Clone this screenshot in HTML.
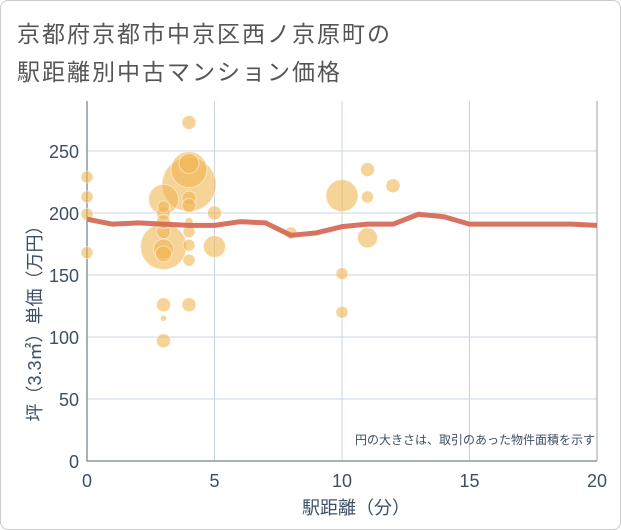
<!DOCTYPE html>
<html><head><meta charset="utf-8"><style>
body{margin:0;background:#fff;font-family:"Liberation Sans","Noto Sans CJK JP",sans-serif;}
#wrap{position:relative;width:619px;height:528px;border:1px solid #ccc;border-radius:8px;overflow:hidden;}
.title{position:absolute;left:16px;font-size:23px;color:#555;letter-spacing:2px;}
</style></head><body>
<div id="wrap">
<div class="title" style="top:14px">京都府京都市中京区西ノ京原町の</div>
<div class="title" style="top:52px">駅距離別中古マンション価格</div>
<svg id="chart" width="621" height="530" style="position:absolute;left:0;top:0"></svg>
</div>
<script>
const xTicks=[0,5,10,15,20];
const yTicks=[0,50,100,150,200,250];
const bubbleX=[0,0,0,0,3,3,3,3,3,3,3,3,3,3,3,4,4,4,4,4,4,4,4,4,4,4,5,5,8,10,10,10,11,11,11,12];
const bubbleY=[229,213,199,168,173,211,205,200,185,171,167,126,115,97,193,273,223,235,212,206,193,185,174,162,126,240,200,173,184,214,151,120,235,213,180,222];
const bubbleR=[6,6,6,6,23,15,6,7,7,10,8,7,3,7,7,7,27,18,7,7,4,6,6,6,7,10,7,11,6,16,6,6,7,6,10,7];
const lineX=[0,1,2,3,4,5,6,7,8,9,10,11,12,13,14,15,16,17,18,19,20];
const lineY=[195,191,192,191,190,190,193,192,182,184,189,191,191,199,197,191,191,191,191,191,190];
const NS='http://www.w3.org/2000/svg';
const svg=document.getElementById('chart');
const X0=86,X1=596,Y0=460,Y250=150;
const sx=v=>X0+(X1-X0)*v/20;
const sy=v=>Y0-(Y0-Y250)*v/250;
function mk(t,a){const e=document.createElementNS(NS,t);for(const k in a)e.setAttribute(k,a[k]);svg.appendChild(e);return e;}
const plotBg=mk('rect',{x:X0,y:100,width:X1-X0,height:Y0-100,fill:'#fff',stroke:'none'});


yTicks.forEach(t=>{
 const g=mk('line',{x1:X0,x2:X1,y1:sy(t),y2:sy(t),stroke:'#c8d4e4','stroke-width':1});
 
 
 const l=mk('text',{x:X0-8,y:sy(t)+7,'text-anchor':'end','font-size':18,fill:'#3d4f66'});
 l.textContent=t;
 
 
});
xTicks.forEach(t=>{
 const g=mk('line',{x1:sx(t),x2:sx(t),y1:100,y2:Y0,stroke:'#c8d4e4','stroke-width':1});
 
 
 const l=mk('text',{x:sx(t),y:Y0+26,'text-anchor':'middle','font-size':18,fill:'#3d4f66'});
 l.textContent=t;
 
 
});
const ax=mk('path',{d:`M${X0},100V${Y0}H${X1}`,fill:'none',stroke:'#8a96a6','stroke-width':1.5});


const ax2=mk('line',{x1:X1,x2:X1,y1:100,y2:Y0,stroke:'#9aa3ae','stroke-width':1});


const order=bubbleR.map((r,i)=>i).sort((a,b)=>bubbleR[b]-bubbleR[a]);
order.forEach(i=>{
 const c=mk('circle',{cx:sx(bubbleX[i]),cy:sy(bubbleY[i]),r:bubbleR[i],fill:'#f0b552','fill-opacity':0.6,stroke:'#fff','stroke-opacity':0.5,'stroke-width':1});
 
 
});
const ln=mk('polyline',{points:lineX.map((x,i)=>sx(x)+','+sy(lineY[i])).join(' '),fill:'none',stroke:'#d66b58','stroke-width':5,'stroke-linejoin':'round','stroke-opacity':0.95});


const note=mk('text',{x:594,y:443,'text-anchor':'end','font-size':12,fill:'#3d4f66'});
note.textContent='円の大きさは、取引のあった物件面積を示す';


const xt=mk('text',{x:355,y:513,'text-anchor':'middle','font-size':18,fill:'#3d4f66'});
xt.textContent='駅距離（分）';


const yt=mk('text',{x:0,y:0,'text-anchor':'middle','font-size':18,fill:'#3d4f66',transform:'translate(40,318) rotate(-90)'});
yt.textContent='坪（3.3㎡）単価（万円）';


</script>
</body></html>
